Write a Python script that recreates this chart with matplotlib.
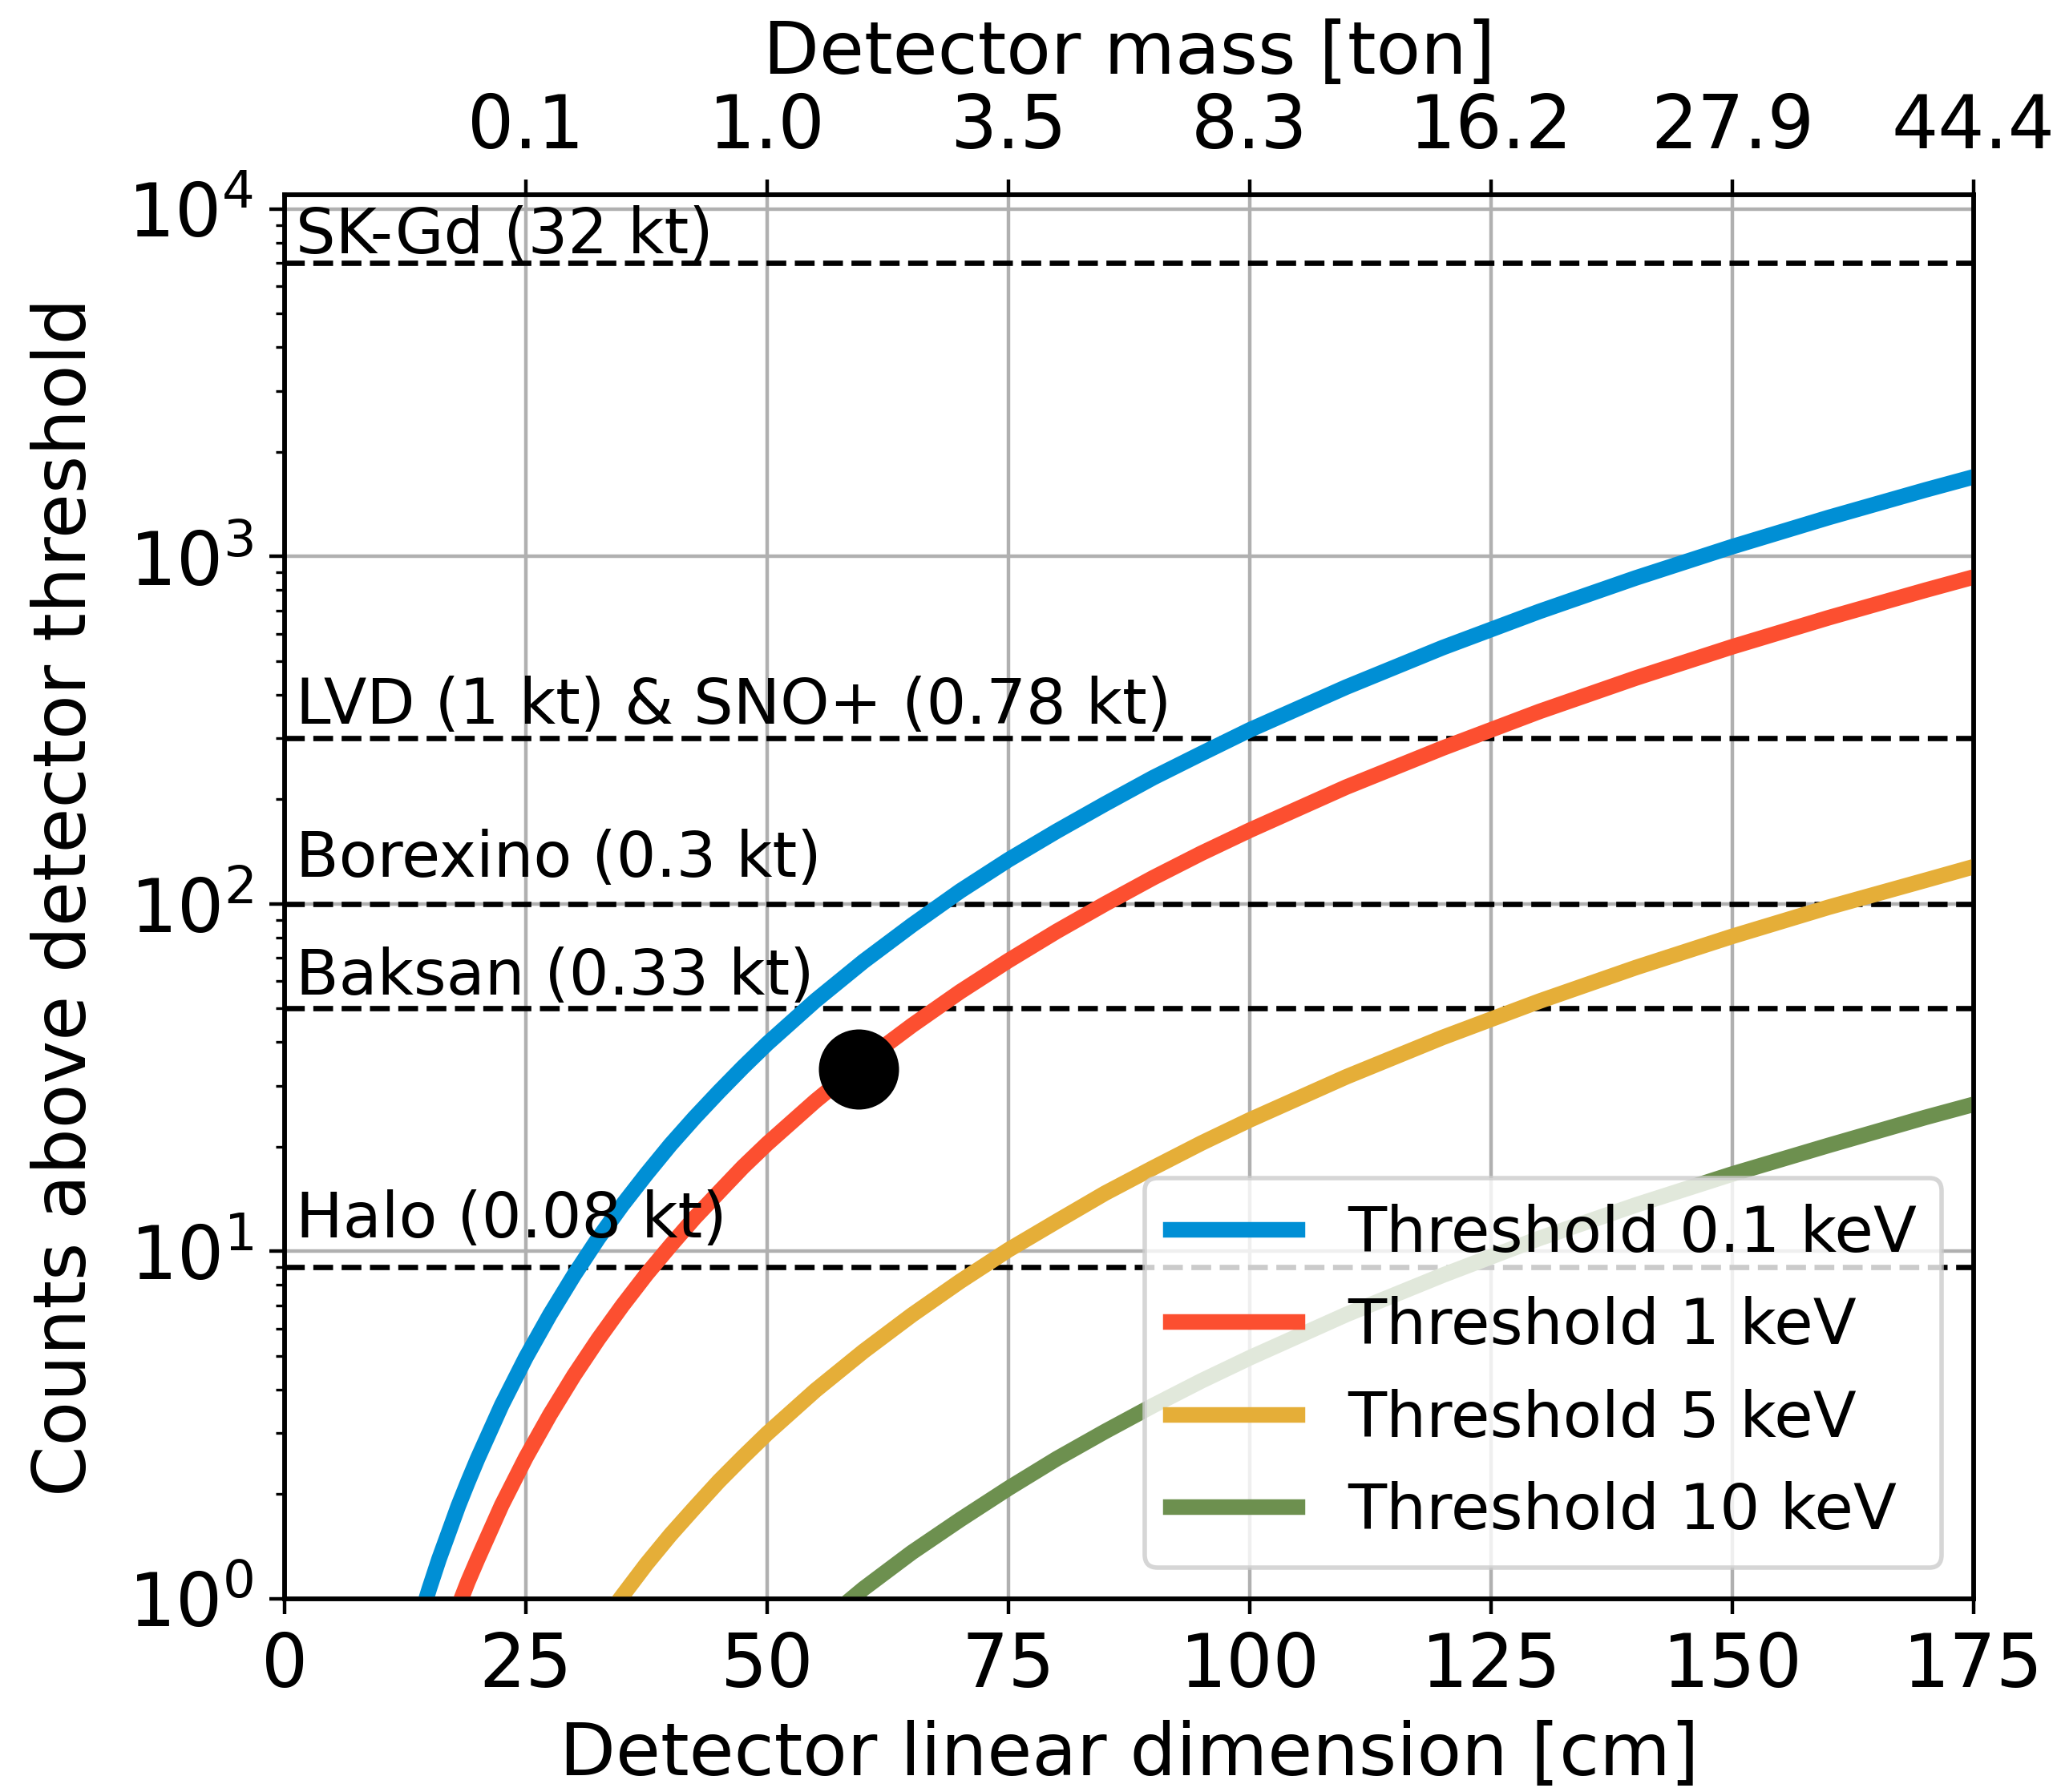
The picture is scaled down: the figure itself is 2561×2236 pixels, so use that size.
import numpy as np
import matplotlib
matplotlib.use("Agg")
import matplotlib.pyplot as plt

# longitud del detector (cm) y cuentas leidas para cada umbral
x_01 = [14, 15, 16, 17, 18, 19, 20, 22.5, 25, 27.5, 30, 32.5, 35, 37.5, 40,
        42.5, 45, 47.5, 50, 55, 60, 65, 70, 75, 80, 85, 90, 95, 100, 110, 120,
        130, 140, 150, 160, 170, 175]
y_01 = [0.87, 1.07, 1.30, 1.55, 1.85, 2.17, 2.53, 3.61, 4.95, 6.58, 8.55, 10.9,
        13.6, 16.7, 20.3, 24.3, 28.8, 33.9, 39.6, 52.7, 68.4, 86.9, 109, 134,
        162, 194, 231, 271, 317, 421, 547, 695, 868, 1068, 1296, 1555, 1696]

x_1 = [18, 19, 20, 22.5, 25, 27.5, 30, 32.5, 35, 37.5, 40, 42.5, 45, 47.5, 50,
       55, 60, 65, 70, 75, 80, 85, 90, 95, 100, 110, 120, 130, 140, 150, 160,
       170, 175]
y_1 = [0.95, 1.12, 1.30, 1.86, 2.55, 3.39, 4.40, 5.59, 6.98, 8.59, 10.4, 12.5,
       14.8, 17.5, 20.4, 27.1, 35.2, 44.7, 55.9, 68.7, 83.4, 100, 119, 140, 163,
       217, 281, 358, 447, 550, 667, 800, 873]

x_5 = [32.5, 35, 37.5, 40, 42.5, 45, 47.5, 50, 55, 60, 65, 70, 75, 80, 85, 90,
       95, 100, 110, 120, 130, 140, 150, 160, 170, 175]
y_5 = [0.82, 1.02, 1.26, 1.53, 1.83, 2.18, 2.56, 2.99, 3.98, 5.16, 6.56, 8.20,
       10.1, 12.2, 14.7, 17.4, 20.5, 23.9, 31.8, 41.3, 52.5, 65.6, 80.7, 97.9,
       117, 128]

x_10 = [55, 60, 65, 70, 75, 80, 85, 90, 95, 100, 110, 120, 130, 140, 150, 160,
        170, 175]
y_10 = [0.82, 1.07, 1.36, 1.69, 2.08, 2.53, 3.03, 3.60, 4.24, 4.94, 6.58, 8.54,
        10.9, 13.6, 16.7, 20.2, 24.3, 26.5]

series_labels = ["Threshold 0.1 keV", "Threshold 1 keV", "Threshold 5 keV",
                 "Threshold 10 keV"]
colors = ["#008fd5", "#fc4f30", "#e5ae38", "#6d904f"]

# experimentos de referencia
exp_names = ["SK-Gd (32 kt)", "LVD (1 kt) & SNO+ (0.78 kt)", "Borexino (0.3 kt)",
             "Baksan (0.33 kt)", "Halo (0.08 kt)"]
exp_counts = [7000, 300, 100, 50, 9]

# punto marcado
dot_x = [59.5]
dot_y = [33.5]

# eje superior: masa del detector
mass_ticks = [25, 50, 75, 100, 125, 150, 175]
mass_labels = ["0.1", "1.0", "3.5", "8.3", "16.2", "27.9", "44.4"]

plt.rcParams['font.family'] = ['DejaVu Sans']
plt.rcParams['axes.linewidth'] = 1.0

fig = plt.figure(figsize=(2561 / 400, 2236 / 400), dpi=400)
ax = fig.add_axes([0.1386, 0.1078, 0.8227, 0.7835])

for xs, ys, lab, c in zip([x_01, x_1, x_5, x_10], [y_01, y_1, y_5, y_10],
                          series_labels, colors):
    ax.plot(xs, ys, color=c, lw=3.5, label=lab, zorder=3)

# factor vertical de cada etiqueta sobre su linea
label_lift = [0.98, 1.01, 1.10, 1.01, 1.12]
for name, val, lift in zip(exp_names, exp_counts, label_lift):
    ax.axhline(val, color='black', ls='--', lw=1.2, zorder=2)
    ax.text(1.2, val * lift, name, fontsize=14.1, ha='left', va='bottom', zorder=4)

ax.plot(dot_x, dot_y, 'o', color='black', ms=17, zorder=5)

ax.set_yscale('log')
ax.set_xlim(0, 175)
ax.set_ylim(1, 1.1e4)
ax.set_xticks([0, 25, 50, 75, 100, 125, 150, 175])
ax.tick_params(labelsize=16.5)
ax.grid(True, which='major', color='#b0b0b0', lw=0.8)
ax.set_axisbelow(True)
ax.set_xlabel('Detector linear dimension [cm]', fontsize=16.4)
ax.set_ylabel('Counts above detector threshold', fontsize=16.4, labelpad=6)

ax.legend(loc='lower right', fontsize=14.2)

ax2 = ax.twiny()
ax2.set_xlim(ax.get_xlim())
ax2.set_xticks(mass_ticks)
ax2.set_xticklabels(mass_labels)
ax2.tick_params(labelsize=16.5)
ax2.set_xlabel('Detector mass [ton]', fontsize=16.4)

fig.savefig('out.png', dpi=400)
